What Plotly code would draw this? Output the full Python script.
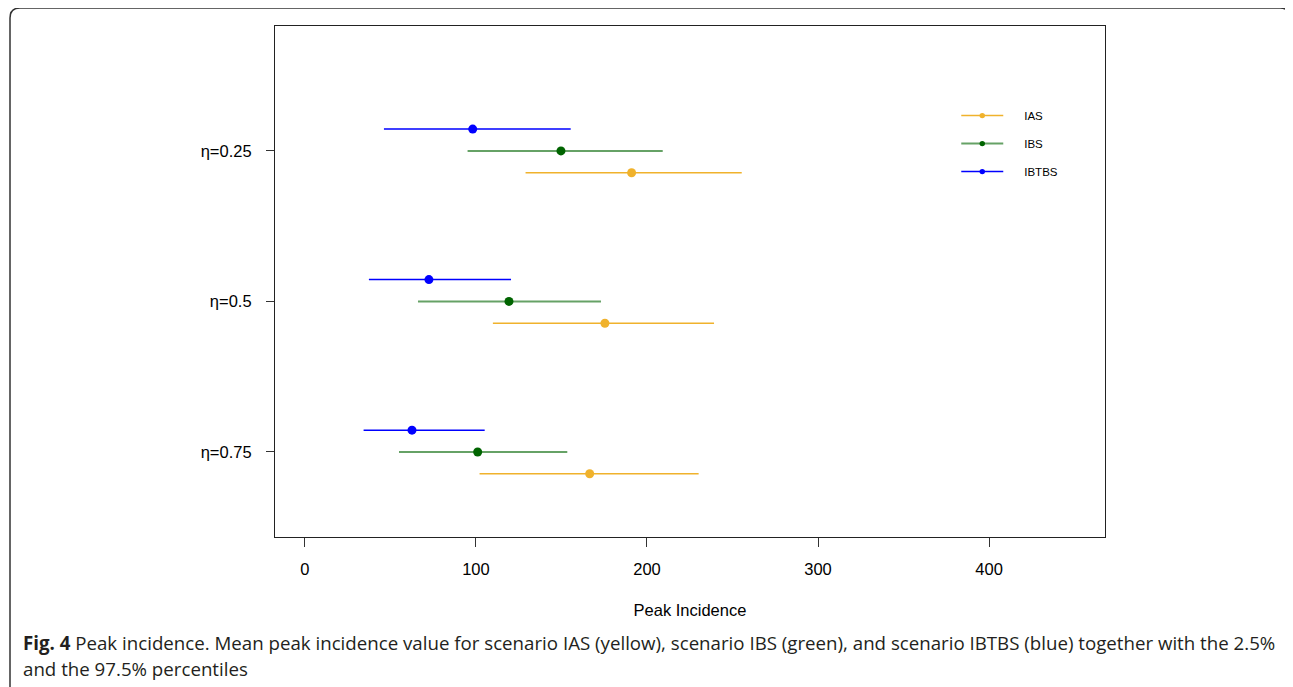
import plotly.graph_objects as go

# ---- data ----
eta_labels = ["η=0.25", "η=0.5", "η=0.75"]
eta_pos = [3, 2, 1]  # vertical group positions (top to bottom)
scenarios = ["IAS", "IBS", "IBTBS"]

ias_mean = [191.0, 175.4, 166.5]
ias_low = [129.0, 109.9, 102.1]
ias_high = [255.4, 239.2, 230.2]

ibs_mean = [149.7, 119.3, 101.0]
ibs_low = [95.1, 66.1, 55.0]
ibs_high = [209.2, 173.1, 153.4]

ibtbs_mean = [98.1, 72.5, 62.6]
ibtbs_low = [46.2, 37.4, 34.3]
ibtbs_high = [155.4, 120.5, 105.1]

x_ticks = [0, 100, 200, 300, 400]

# ---- style ----
FONT = "Liberation Sans, Arial, sans-serif"
series = [
    ("IAS", ias_low, ias_mean, ias_high, -0.145, "#F0B22C", "#F0B22C", 1.5),
    ("IBS", ibs_low, ibs_mean, ibs_high, 0.0, "#66A266", "#006400", 2.0),
    ("IBTBS", ibtbs_low, ibtbs_mean, ibtbs_high, 0.145, "#0000FF", "#0000FF", 1.5),
]

fig = go.Figure()
for name, lo, mu, hi, off, lcol, mcol, lw in series:
    xs, ys, sz, cols = [], [], [], []
    for i in range(len(eta_pos)):
        y = eta_pos[i] + off
        xs += [mu[i], lo[i], hi[i], None]
        ys += [y, y, y, None]
        sz += [9, 4.3, 4.3, 4.3]
        cols += [mcol, "rgba(0,0,0,0)", "rgba(0,0,0,0)", "rgba(0,0,0,0)"]
    fig.add_trace(go.Scatter(
        x=xs, y=ys, mode="lines+markers",
        name="\u00a0\u00a0\u00a0\u00a0\u00a0" + name, legendgroup=name,
        line=dict(color=lcol, width=lw),
        marker=dict(color=cols, size=sz, opacity=1, line=dict(width=0)),
        connectgaps=False, hoverinfo="skip",
    ))

W, H = 1285, 679  # page body has an 8px margin
fig.update_layout(
    width=W, height=H,
    margin=dict(l=267, r=W - 1097, t=18, b=H - 529),
    paper_bgcolor="white", plot_bgcolor="white",
    font=dict(family=FONT, color="black", size=16.5),
    showlegend=True,
    legend=dict(
        x=0.8208, y=0.853, xanchor="left", yanchor="top",
        font=dict(family=FONT, size=11.5, color="black"),
        bgcolor="rgba(0,0,0,0)", borderwidth=0,
        tracegroupgap=9, itemwidth=42,
    ),
    xaxis=dict(
        range=[-17.5, 467.8], tickvals=x_ticks, ticktext=[str(v) for v in x_ticks],
        ticks="outside", ticklen=9, tickwidth=1, tickcolor="#333",
        showline=True, linecolor="#222", linewidth=1.2, mirror=True,
        showgrid=False, zeroline=False, ticklabelstandoff=8,
        title=dict(text="Peak Incidence", standoff=27, font=dict(size=16.5)),
        tickfont=dict(size=16.5),
    ),
    yaxis=dict(
        range=[0.435, 3.83], tickvals=eta_pos, ticktext=eta_labels,
        ticks="outside", ticklen=8, tickwidth=1, tickcolor="#333",
        showline=True, linecolor="#222", linewidth=1.2, mirror=True,
        showgrid=False, zeroline=False, ticklabelstandoff=11,
        tickfont=dict(size=16.5),
    ),
)

# outer rounded frame (figure panel border); coords given in screenshot pixels
pw, ph = 830.0, 511.0
def px(x):
    return (x - 275) / pw
def py(y):
    return (537 - y) / ph
r = 10
path = (
    f"M {px(10)},{py(700)} L {px(10)},{py(8 + r)} "
    f"Q {px(10)},{py(8)} {px(10 + r)},{py(8)} "
    f"L {px(1290 - r)},{py(8)} Q {px(1290)},{py(8)} {px(1290)},{py(8 + r)} "
    f"L {px(1290)},{py(700)}"
)
fig.add_shape(type="path", path=path, xref="paper", yref="paper",
              line=dict(color="#333", width=1.5), layer="above")

CAP = "Open Sans, Noto Sans, sans-serif"
fig.add_annotation(
    xref="paper", yref="paper", x=px(21), y=py(642), xanchor="left", yanchor="middle",
    text="<b>Fig. 4</b> Peak incidence. Mean peak incidence value for scenario IAS (yellow), scenario IBS (green), and scenario IBTBS (blue) together with the 2.5%",
    showarrow=False, font=dict(family=CAP, size=18.7, color="#231f20"),
)
fig.add_annotation(
    xref="paper", yref="paper", x=px(21), y=py(668), xanchor="left", yanchor="middle",
    text="and the 97.5% percentiles",
    showarrow=False, font=dict(family=CAP, size=18.7, color="#231f20"),
)

fig.write_html("out.html")
